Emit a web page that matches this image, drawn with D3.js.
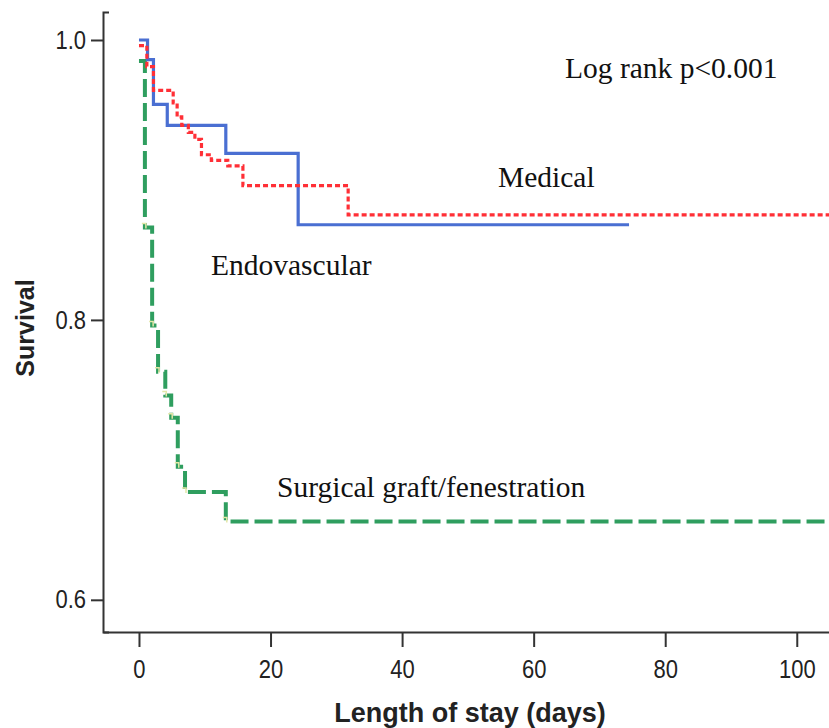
<!DOCTYPE html>
<html><head><meta charset="utf-8">
<script src="https://cdn.jsdelivr.net/npm/d3@7"></script>
<style>
html,body{margin:0;padding:0;background:#fff;}
svg{display:block;}
</style></head>
<body>
<svg id="chart" width="829" height="728"></svg>
<script>
// ---- data ----
const xTicks = [0, 20, 40, 60, 80, 100];
const yTicks = [0.6, 0.8, 1.0];
const yTickLabels = ["0.6", "0.8", "1.0"];

const endoTimes = [0, 1.3, 2.2, 4.3, 13.2, 24.2];
const endoSurv  = [1.0, 0.986, 0.954, 0.939, 0.919, 0.868];
const endoEnd   = 74.5;

const medTimes = [0, 1.2, 2.2, 5.2, 5.8, 6.5, 7.5, 8.5, 9.5, 11, 13.5, 15.8, 31.8];
const medSurv  = [0.996, 0.981, 0.964, 0.955, 0.945, 0.939, 0.934, 0.929, 0.918, 0.914, 0.910, 0.896, 0.875];
const medEnd   = 106;

const surgTimes = [0, 0.9, 2.0, 2.9, 4.0, 4.9, 5.9, 7.0, 13.2];
const surgSurv  = [0.985, 0.866, 0.796, 0.763, 0.746, 0.730, 0.695, 0.677, 0.656];
const surgEnd   = 106;

const seriesNames = ["Endovascular", "Medical", "Surgical graft/fenestration"];
const annotation = "Log rank p<0.001";
const xTitle = "Length of stay (days)";
const yTitle = "Survival";

// ---- drawing ----
const svg = d3.select("#chart");
const x = d3.scaleLinear().domain([-5.47, 104.9]).range([103, 829]);
const y = d3.scaleLinear().domain([0.577, 1.02]).range([632, 12]);

function steps(times, surv, end) {
  const pts = times.map((t, i) => [t, surv[i]]);
  pts.push([end, surv[surv.length - 1]]);
  return pts;
}
const line = d3.line().x(d => x(d[0])).y(d => y(d[1])).curve(d3.curveStepAfter);

svg.append("clipPath").attr("id", "c").append("rect")
  .attr("x", 104).attr("y", 0).attr("width", 725).attr("height", 630);

const plot = svg.append("g").attr("clip-path", "url(#c)");

// surgical (green dashed)
plot.append("path").datum(steps(surgTimes, surgSurv, surgEnd))
  .attr("d", line).attr("fill", "none").attr("stroke", "#2f9e5f")
  .attr("stroke-width", 4).attr("stroke-dasharray", "18,6");
// censor-like pale marks on green steps
plot.selectAll(".cm").data(surgTimes.slice(1).map((t, i) => [t, surgSurv[i + 1]]))
  .enter().append("path")
  .attr("d", d => `M${x(d[0]) - 3},${y(d[1]) - 4}h4v5`)
  .attr("fill", "none").attr("stroke", "#e4e7a8").attr("stroke-width", 1.5);

// endovascular (blue solid)
plot.append("path").datum(steps(endoTimes, endoSurv, endoEnd))
  .attr("d", line).attr("fill", "none").attr("stroke", "#4a6fd2")
  .attr("stroke-width", 3.2);

// medical (red dotted)
plot.append("path").datum(steps(medTimes, medSurv, medEnd))
  .attr("d", line).attr("fill", "none").attr("stroke", "#ff2f36")
  .attr("stroke-width", 3.2).attr("stroke-dasharray", "5,3");

// axes
const yAxis = d3.axisLeft(y).tickValues(yTicks).tickFormat((d, i) => yTickLabels[i])
  .tickSize(12).tickSizeOuter(-6).tickPadding(5);
const gy = svg.append("g").attr("transform", "translate(103,0)").call(yAxis);
const xAxis = d3.axisBottom(x).tickValues(xTicks).tickSize(15).tickSizeOuter(0).tickPadding(9);
const gx = svg.append("g").attr("transform", "translate(0,632)").call(xAxis);

[gx, gy].forEach(g => {
  g.select(".domain").attr("stroke", "#333").attr("stroke-width", 2);
  g.selectAll(".tick line").attr("stroke", "#333").attr("stroke-width", 2);
  g.selectAll(".tick text").attr("fill", "#222")
    .style("font-family", "'Liberation Sans', Arial, sans-serif").style("font-size", "22px")
    .attr("transform", "scale(1,1.15)");
});
gx.selectAll(".tick text").attr("y", 24);
gy.selectAll(".tick text").attr("x", -17);

// axis titles
svg.append("text").attr("x", 470).attr("y", 722).attr("text-anchor", "middle")
  .style("font-family", "'Liberation Sans', Arial, sans-serif").style("font-weight", "bold")
  .style("font-size", "27px").attr("fill", "#222").text(xTitle);
svg.append("text").attr("transform", "translate(34,328) rotate(-90)").attr("text-anchor", "middle")
  .style("font-family", "'Liberation Sans', Arial, sans-serif").style("font-weight", "bold")
  .style("font-size", "25px").attr("fill", "#222").text(yTitle);

// annotations
const serif = "'Liberation Serif', 'Times New Roman', serif";
const labs = [
  {t: annotation, x: 565, y: 78},
  {t: seriesNames[1], x: 498, y: 187},
  {t: seriesNames[0], x: 211, y: 275},
  {t: seriesNames[2], x: 277, y: 497}
];
svg.selectAll(".lab").data(labs).enter().append("text")
  .attr("x", d => d.x).attr("y", d => d.y)
  .style("font-family", serif).style("font-size", "29.5px").attr("fill", "#111")
  .text(d => d.t);
</script>
</body></html>
